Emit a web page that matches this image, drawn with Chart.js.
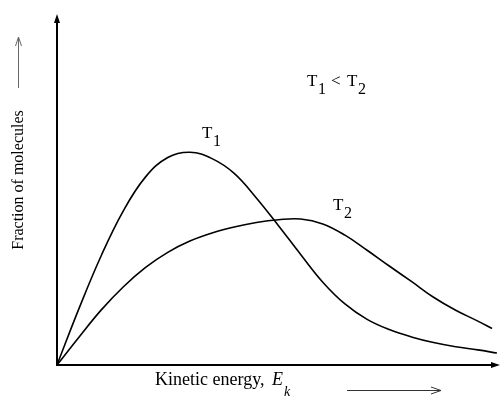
<!DOCTYPE html>
<html>
<head>
  <title>Kinetic energy distribution</title>
  <script src="https://cdn.jsdelivr.net/npm/chart.js"></script>
  <style>
    html, body { margin: 0; padding: 0; background: #fff; }
    #wrap { width: 501px; height: 399px; }
  </style>
</head>
<body>
  <div id="wrap"><canvas id="ekChart" width="501" height="399"></canvas></div>

  <script>
    // energy (arbitrary units) and fraction of molecules
    const energyT1 = [0, 0.5, 1.0, 1.5, 2.0, 2.5, 3.0, 3.5, 4.0, 4.5, 5.0, 5.5, 6.0, 6.5, 7.0, 7.5, 8.0, 8.5, 9.0, 9.5, 9.93];
    const fractionT1 = [0, 1.62, 3.12, 4.40, 5.36, 5.91, 6.06, 5.88, 5.46, 4.76, 3.97, 3.15, 2.36, 1.74, 1.30, 1.01, 0.80, 0.64, 0.52, 0.43, 0.34];

    const energyT2 = [0, 0.5, 1.0, 1.5, 2.0, 2.5, 3.0, 3.5, 4.0, 4.5, 5.0, 5.5, 6.0, 6.5, 7.0, 7.5, 8.0, 8.5, 9.0, 9.5, 9.82];
    const fractionT2 = [0, 0.80, 1.57, 2.23, 2.78, 3.21, 3.53, 3.76, 3.93, 4.06, 4.14, 4.16, 4.02, 3.70, 3.27, 2.82, 2.38, 1.93, 1.56, 1.25, 1.04];

    const seriesNames = ['T1', 'T2'];

    function pts(xs, ys) {
      return xs.map((x, i) => ({ x: x, y: ys[i] }));
    }

    const serif = '"Liberation Serif", "DejaVu Serif", serif';

    // draws axes with arrowheads and the text labels
    const decor = {
      id: 'decor',
      afterDraw(chart) {
        const ctx = chart.ctx;
        const a = chart.chartArea;
        ctx.save();
        ctx.strokeStyle = '#000';
        ctx.fillStyle = '#000';
        ctx.lineWidth = 2;
        ctx.beginPath();
        ctx.moveTo(a.left, a.top + 4);
        ctx.lineTo(a.left, a.bottom);
        ctx.lineTo(a.right - 4, a.bottom);
        ctx.stroke();
        // arrow tips
        ctx.beginPath();
        ctx.moveTo(a.left, a.top);
        ctx.lineTo(a.left - 3, a.top + 9);
        ctx.lineTo(a.left + 3, a.top + 9);
        ctx.closePath();
        ctx.fill();
        ctx.beginPath();
        ctx.moveTo(a.right, a.bottom);
        ctx.lineTo(a.right - 9, a.bottom - 3);
        ctx.lineTo(a.right - 9, a.bottom + 3);
        ctx.closePath();
        ctx.fill();

        // y title with arrow
        ctx.save();
        ctx.translate(23, 180);
        ctx.rotate(-Math.PI / 2);
        ctx.font = '16px ' + serif;
        ctx.textAlign = 'center';
        ctx.textBaseline = 'alphabetic';
        ctx.fillText('Fraction of molecules', 0, 0);
        ctx.restore();
        ctx.strokeStyle = '#666';
        ctx.lineWidth = 1;
        ctx.beginPath();
        ctx.moveTo(18.5, 88);
        ctx.lineTo(18.5, 37);
        ctx.moveTo(15.5, 46);
        ctx.lineTo(18.5, 37);
        ctx.lineTo(21.5, 46);
        ctx.stroke();

        // x title with arrow
        ctx.fillStyle = '#000';
        ctx.font = '18px ' + serif;
        ctx.textAlign = 'left';
        ctx.fillText('Kinetic energy,', 155, 385);
        ctx.font = 'italic 18px ' + serif;
        ctx.fillText('E', 272, 385);
        ctx.font = 'italic 14px ' + serif;
        ctx.fillText('k', 284, 396);
        ctx.strokeStyle = '#333';
        ctx.beginPath();
        ctx.moveTo(347, 390.5);
        ctx.lineTo(441, 390.5);
        ctx.moveTo(431, 387);
        ctx.lineTo(441, 390.5);
        ctx.lineTo(431, 394);
        ctx.stroke();

        // curve labels
        function tLabel(sub, px, py) {
          ctx.font = '17px ' + serif;
          ctx.fillText('T', px, py);
          ctx.font = '16px ' + serif;
          ctx.fillText(sub, px + 11, py + 8);
        }
        tLabel(seriesNames[0].slice(1), 202, 138);
        tLabel(seriesNames[1].slice(1), 333, 210);

        tLabel('1', 307, 86);
        ctx.font = '17px ' + serif;
        ctx.fillText('<', 331, 86);
        tLabel('2', 347, 86);
        ctx.restore();
      }
    };

    new Chart(document.getElementById('ekChart'), {
      type: 'line',
      data: {
        datasets: [
          { label: seriesNames[0], data: pts(energyT1, fractionT1) },
          { label: seriesNames[1], data: pts(energyT2, fractionT2) }
        ]
      },
      options: {
        responsive: false,
        animation: false,
        elements: {
          line: { borderColor: '#000', borderWidth: 1.6, tension: 0.4, fill: false },
          point: { radius: 0, hoverRadius: 0 }
        },
        layout: { padding: { left: 57, right: 1, top: 14, bottom: 34 } },
        plugins: { legend: { display: false }, tooltip: { enabled: false } },
        scales: {
          x: { type: 'linear', min: 0, max: 10, display: false },
          y: { type: 'linear', min: 0, max: 10, display: false }
        }
      },
      plugins: [decor]
    });
  </script>
</body>
</html>
